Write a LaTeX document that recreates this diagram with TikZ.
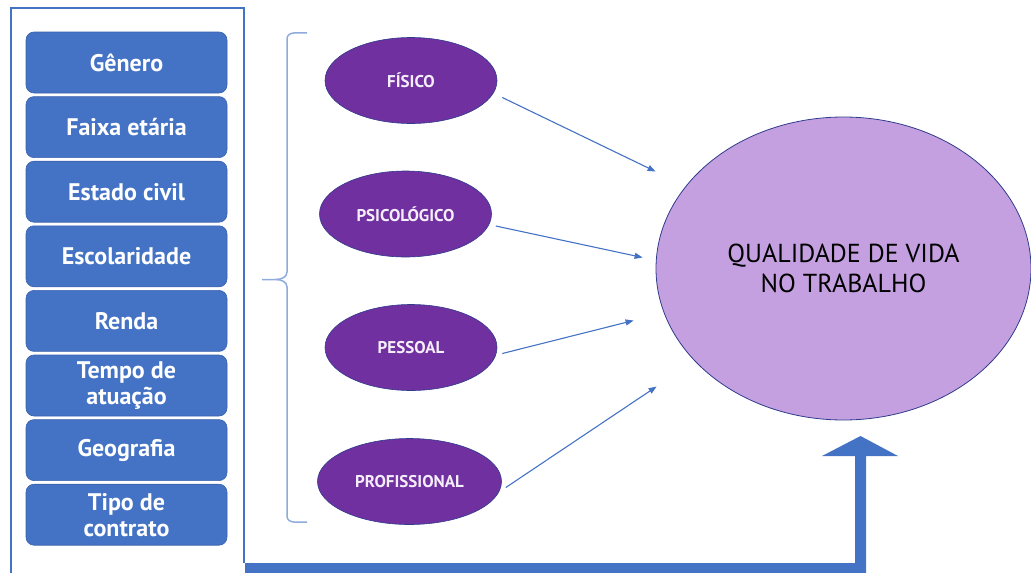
\documentclass[tikz,border=0pt]{standalone}
\usepackage{fontspec}
\setmainfont{PT Sans}
\usetikzlibrary{shapes.geometric,arrows.meta}

\begin{document}
\begin{tikzpicture}[x=1pt,y=-1pt,
  fator/.style={draw={rgb,255:red,58;green,98;blue,172},line width=0.6pt,fill={rgb,255:red,68;green,114;blue,196},rounded corners=8pt,minimum width=201pt,minimum height=61pt,inner sep=0pt,align=center,text=white,font=\fontsize{24}{26}\selectfont\bfseries},
  dimensao/.style={ellipse,draw={rgb,255:red,47;green,60;blue,140},line width=0.6pt,fill={rgb,255:red,112;green,48;blue,160},minimum width=172pt,minimum height=86pt,inner sep=0pt,text={rgb,255:red,245;green,238;blue,250},font=\fontsize{17}{20}\selectfont\bfseries},
  link/.style={draw={rgb,255:red,68;green,114;blue,196},line width=1.1pt,-{Triangle[length=8pt,width=6pt]}}]%
\useasboundingbox (0,0) rectangle (1031,573);%
% moldura dos fatores
\draw[draw={rgb,255:red,68;green,114;blue,196},line width=1.2pt] (11,573) -- (11,8) -- (244,8) -- (244,563);%
\node[fator] (genero) at (126.5, 62.5) {Gênero};%
\node[fator] (faixa) at (126.5, 127.1) {Faixa etária};%
\node[fator] (estado) at (126.5, 191.7) {Estado civil};%
\node[fator] (escola) at (126.5, 256.3) {Escolaridade};%
\node[fator] (renda) at (126.5, 320.9) {Renda};%
\node[fator] (tempo) at (126.5, 385.5) {Tempo de\\atuação};%
\node[fator] (geo) at (126.5, 450.1) {Geografia};%
\node[fator] (contrato) at (126.5, 514.7) {Tipo de\\contrato};%
% chave
\draw[draw={rgb,255:red,143;green,170;blue,220},line width=1.5pt] (307,33) to[out=180,in=90] (287,39) -- (287,272) to[out=-90,in=0] (276,279.5) -- (262,279.5);%
\draw[draw={rgb,255:red,143;green,170;blue,220},line width=1.5pt] (276,279.5) to[out=0,in=90] (287,287) -- (287,516) to[out=-90,in=180] (307,522);%
% dimensoes
\node[dimensao] (fisico) at (411, 80.5) {FÍSICO};%
\node[dimensao] (psico) at (405.5, 214) {PSICOLÓGICO};%
\node[dimensao] (pessoal) at (411, 347.5) {PESSOAL};%
\node[dimensao,minimum width=184pt] (prof) at (409.5, 481.5) {PROFISSIONAL};%
\node[ellipse,draw={rgb,255:red,47;green,60;blue,140},line width=0.8pt,fill={rgb,255:red,197;green,160;blue,225},minimum width=375pt,minimum height=303pt,inner sep=0pt,align=center,font=\fontsize{26}{30}\selectfont] (qvt) at (843.5, 268.5) {QUALIDADE DE VIDA\\NO TRABALHO};%
\draw[link] ([xshift=5pt,yshift=-17pt]fisico.east) -- ([xshift=0pt,yshift=97pt]qvt.west);%
\draw[link] ([xshift=4pt,yshift=-12pt]psico.east) -- ([xshift=-13pt,yshift=11pt]qvt.west);%
\draw[link] ([xshift=5pt,yshift=-6pt]pessoal.east) -- ([xshift=-22pt,yshift=-52pt]qvt.west);%
\draw[link] ([xshift=4pt,yshift=-6pt]prof.east) -- ([xshift=1pt,yshift=-118pt]qvt.west);%
% seta larga
\fill[fill={rgb,255:red,68;green,114;blue,196}] (245,563) -- (855,563) -- (855,456) -- (822,456) -- (860.5,436) -- (898,456) -- (866,456) -- (866,573) -- (245,573) -- cycle;%
\end{tikzpicture}
\end{document}
